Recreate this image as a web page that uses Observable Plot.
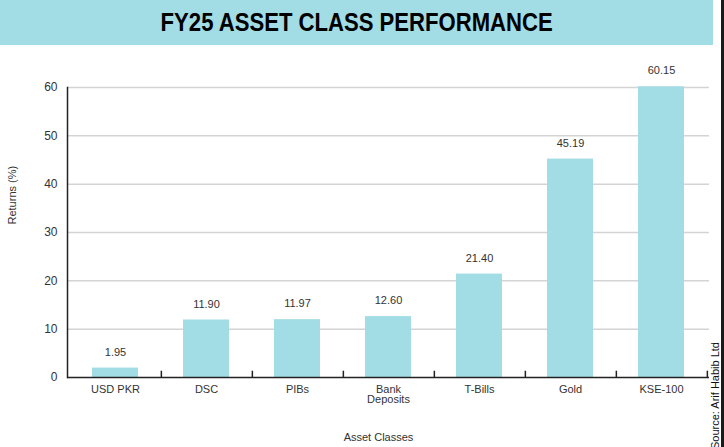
<!DOCTYPE html>
<html><head><meta charset="utf-8">
<script src="https://cdn.jsdelivr.net/npm/d3@7"></script>
<script src="https://cdn.jsdelivr.net/npm/@observablehq/plot@0.6"></script>
<style>
body{margin:0;background:#fff;}
#wrap{position:relative;width:724px;height:447px;overflow:hidden;background:#fff;font-family:"Liberation Sans",Arial,sans-serif;}
#banner{position:absolute;left:0;top:0;width:713px;height:45px;background:#a2dce4;display:flex;align-items:center;justify-content:center;font-family:"Liberation Sans",Arial,sans-serif;font-weight:bold;font-size:26px;color:#000;}
#banner span{display:inline-block;transform:scaleX(0.85);white-space:nowrap;}
#edge{position:absolute;right:0;top:0;width:3px;height:447px;background:#1a1a1a;}
#chart{position:absolute;left:0;top:46px;}
#source{position:absolute;left:709px;bottom:-2px;writing-mode:vertical-rl;transform:rotate(180deg);font-size:11px;color:#111;white-space:nowrap;line-height:13px;}
</style></head>
<body>
<div id="wrap">
  <div id="banner"><span>FY25 ASSET CLASS PERFORMANCE</span></div>
  <div id="chart"></div>
  <div id="source">Source: Arif Habib Ltd</div>
  <div id="edge"></div>
</div>
<script>
const categories = ["USD PKR","DSC","PIBs","Bank\nDeposits","T-Bills","Gold","KSE-100"];
const values = [1.95, 11.90, 11.97, 12.60, 21.40, 45.19, 60.15];
const yTicks = [0, 10, 20, 30, 40, 50, 60];

const data = categories.map((c, i) => ({category: c, value: values[i]}));
const halfStep = (724 - 67 - 15) / categories.length / 2;

const chart = Plot.plot({
  width: 724, height: 401,
  marginTop: 41, marginBottom: 70, marginLeft: 67, marginRight: 15,
  style: {fontFamily: "Liberation Sans, Arial, sans-serif", fontSize: "11px", color: "#333", background: "transparent"},
  x: {domain: categories, paddingInner: 0.49, paddingOuter: 0.245, label: null},
  y: {domain: [0, 60], ticks: yTicks, label: null},
  marks: [
    Plot.gridY(yTicks.filter(d => d > 0), {stroke: "#d4d4d4", strokeOpacity: 1, strokeWidth: 1.5}),
    Plot.barY(data, {x: "category", y: "value", fill: "#a2dce4"}),
    Plot.ruleY([0], {stroke: "#222", strokeWidth: 1.5}),
    Plot.ruleX(categories, {x: d => d, y1: 0, y2: 1.3, dx: halfStep, stroke: "#222", strokeWidth: 1.5}),
    Plot.frame({anchor: "left", stroke: "#222", strokeWidth: 1.5}),
    Plot.axisY({ticks: yTicks, tickSize: 0, tickPadding: 10, label: null, fontSize: 12}),
    Plot.axisX({tickSize: 0, tickPadding: 8, label: null, lineHeight: 0.95}),
    Plot.text(data, {x: "category", y: "value", text: d => d.value.toFixed(2), dy: -16, fill: "#333"}),
    Plot.text(["Asset Classes"], {frameAnchor: "bottom", dy: 63, dx: -10, fill: "#333"}),
    Plot.text(["Returns (%)"], {frameAnchor: "left", dx: -55, dy: -8, rotate: -90, fill: "#333"})
  ]
});
document.getElementById("chart").appendChild(chart);
</script>
</body></html>
